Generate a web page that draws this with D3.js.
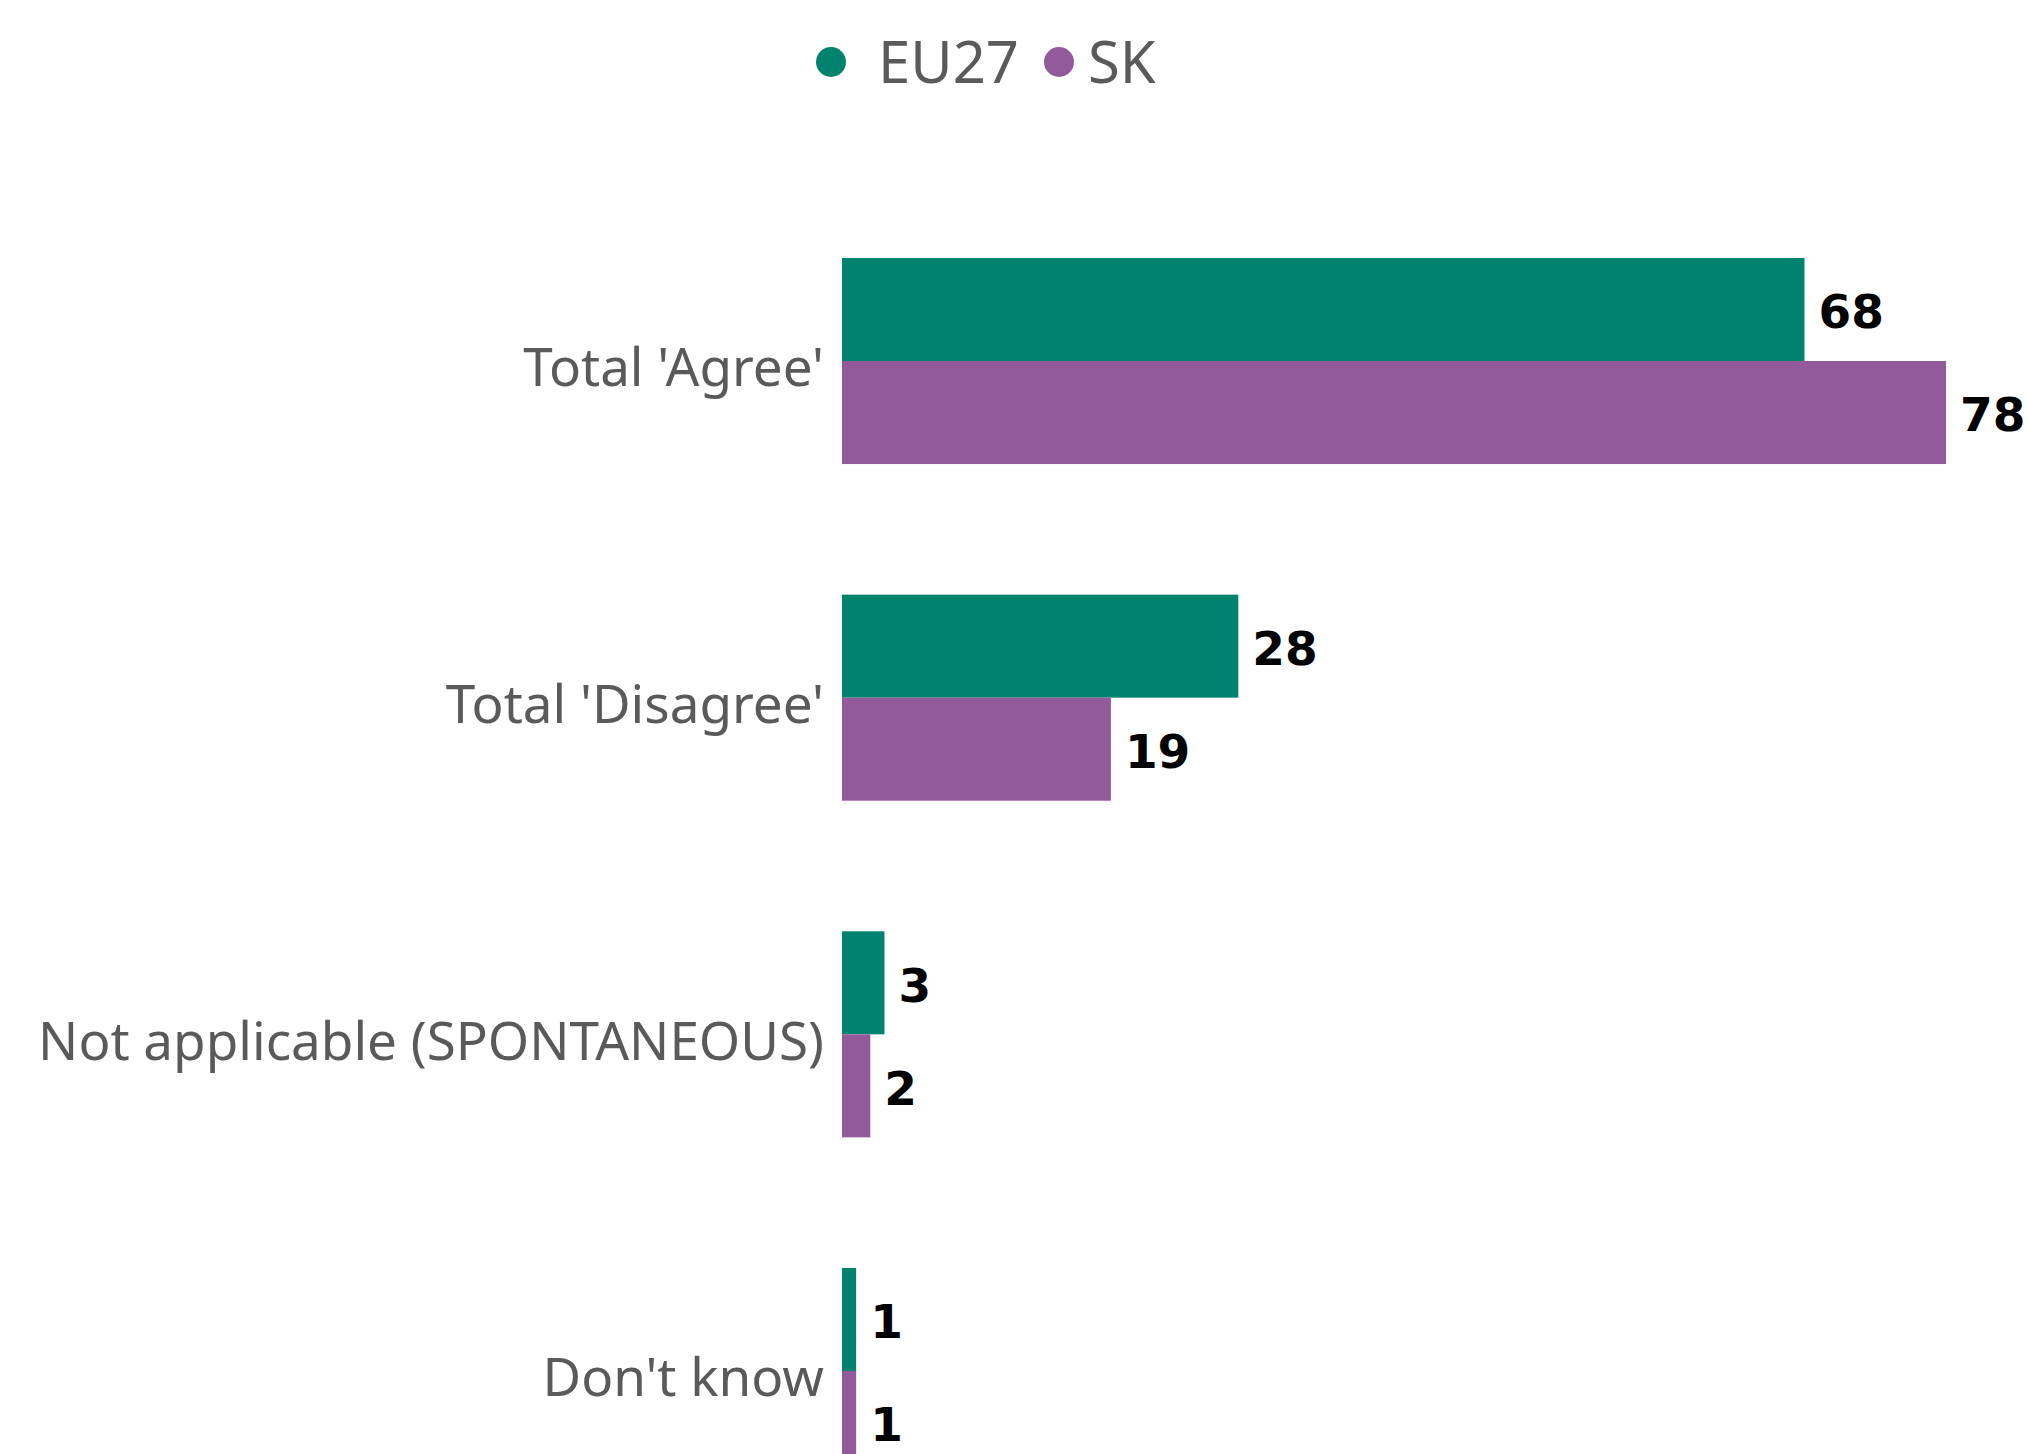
<!DOCTYPE html>
<html>
<head>
<meta charset="utf-8">
<script src="https://cdn.jsdelivr.net/npm/d3@7"></script>
<style>
  body { margin: 0; background: #fff; }
  svg { display: block; }
</style>
</head>
<body>
<svg id="chart" width="2029" height="1454"></svg>
<script>
let categories = ["Total 'Agree'", "Total 'Disagree'", "Not applicable (SPONTANEOUS)", "Don't know"]
let seriesNames = ['EU27', 'SK']
let eu27 = [68, 28, 3, 1]
let sk = [78, 19, 2, 1]
let colors = ['#00836e', '#935a9b']

let width = 2029
let height = 1454
let svg = d3.select('#chart')

let rows = categories.map((c, i) => ({cat: c, values: [eu27[i], sk[i]]}))

let x = d3.scaleLinear()
    .domain([0, d3.max(sk.concat(eu27))])
    .range([842, 1946])

let y0 = d3.scaleBand()
    .domain(categories)
    .range([258, 1474])
    .paddingInner(0.388)
    .paddingOuter(0)

let y1 = d3.scaleBand()
    .domain(seriesNames)
    .range([0, y0.bandwidth()])

let groups = svg.selectAll('g.group')
    .data(rows)
    .enter()
    .append('g')
    .attr('class', 'group')
    .attr('transform', d => 'translate(0,' + y0(d.cat) + ')')

groups.selectAll('rect')
    .data(d => d.values.map((v, i) => ({name: seriesNames[i], value: v, i: i})))
    .enter()
    .append('rect')
    .attr('x', x(0))
    .attr('y', d => y1(d.name))
    .attr('width', d => x(d.value) - x(0))
    .attr('height', y1.bandwidth())
    .attr('fill', d => colors[d.i])

groups.selectAll('text.val')
    .data(d => d.values.map((v, i) => ({name: seriesNames[i], value: v})))
    .enter()
    .append('text')
    .attr('class', 'val')
    .attr('x', d => x(d.value) + 14)
    .attr('y', d => y1(d.name) + y1.bandwidth() / 2)
    .attr('dy', '0.4em')
    .attr('font-family', 'DejaVu Sans, sans-serif')
    .attr('font-weight', 'bold')
    .attr('font-size', 47)
    .attr('fill', '#000')
    .text(d => d.value)

// category labels on the left
svg.selectAll('text.cat')
    .data(categories)
    .enter()
    .append('text')
    .attr('class', 'cat')
    .attr('x', 824)
    .attr('y', d => y0(d) + y0.bandwidth() / 2)
    .attr('dy', '0.48em')
    .attr('text-anchor', 'end')
    .attr('font-family', 'Noto Sans, sans-serif')
    .attr('font-size', 53)
    .attr('fill', '#5a5a5a')
    .text(d => d)

// legend, item offsets from the left of the legend
let legendDot = [15, 243]
let legendText = [62, 272]
let legend = svg.append('g').attr('transform', 'translate(816,62)')
seriesNames.forEach((name, i) => {
    legend.append('circle')
        .attr('cx', legendDot[i])
        .attr('cy', 0)
        .attr('r', 15)
        .attr('fill', colors[i])
    legend.append('text')
        .attr('x', legendText[i])
        .attr('y', 0)
        .attr('dy', '0.36em')
        .attr('font-family', 'Noto Sans, sans-serif')
        .attr('font-size', 58)
        .attr('fill', '#5a5a5a')
        .text(name)
})
</script>
</body>
</html>
